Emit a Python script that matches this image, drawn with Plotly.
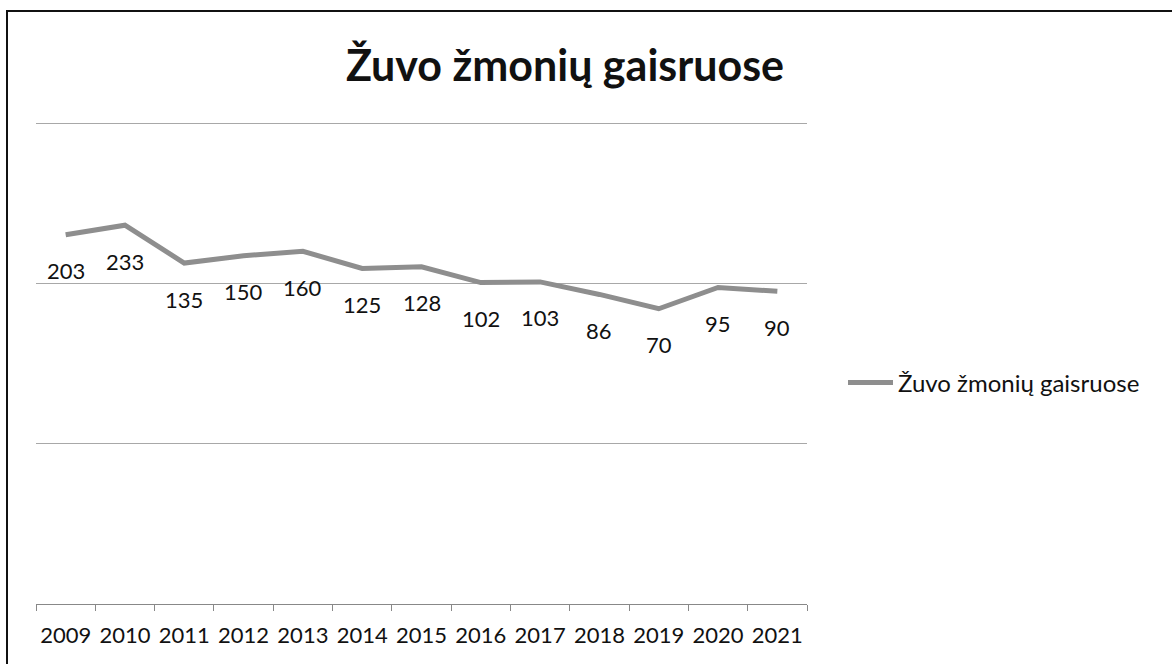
import math
import plotly.graph_objects as go

years = ["2009", "2010", "2011", "2012", "2013", "2014", "2015",
         "2016", "2017", "2018", "2019", "2020", "2021"]
deaths = [203, 233, 135, 150, 160, 125, 128, 102, 103, 86, 70, 95, 90]
series_name = "Žuvo žmonių gaisruose"
title_text = "Žuvo žmonių gaisruose"

FONT = "Lato"
W, H = 1172, 664
L, R, T, B = 36, 365, 122, 60
pw, ph = W - L - R, H - T - B

def px_x(p):
    return (p - L) / pw

def px_y(p):
    return (H - B - p) / ph

fig = go.Figure()
fig.add_trace(go.Scatter(
    x=years, y=deaths, mode="lines", name=series_name,
    line=dict(color="#8e8e8e", width=5),
))

for i, v in enumerate(deaths):
    fig.add_annotation(x=i, y=math.log10(v), yref="y", xref="x", text=str(v),
                       showarrow=False, yshift=-36,
                       font=dict(family=FONT, size=22, color="#111111"))

fig.add_shape(type="rect", xref="paper", yref="paper",
              x0=px_x(7), x1=px_x(1190), y0=px_y(690), y1=px_y(11),
              line=dict(color="#111111", width=2), fillcolor="rgba(0,0,0,0)",
              layer="below")

fig.update_layout(
    width=W, height=H,
    margin=dict(l=L, r=R, t=T, b=B, autoexpand=False),
    paper_bgcolor="white", plot_bgcolor="white",
    title=dict(text=title_text, x=px_x(565), xref="paper", xanchor="center",
               y=1 - 66 / H, yref="container", yanchor="middle",
               font=dict(family=FONT, size=43, color="#111111", weight="bold")),
    showlegend=True,
    legend=dict(x=px_x(843), y=px_y(383), xanchor="left", yanchor="middle",
                font=dict(family=FONT, size=24, color="#111111"),
                bgcolor="rgba(0,0,0,0)", itemwidth=45),
    font=dict(family=FONT),
)

fig.update_xaxes(type="category", range=[-0.5, len(years) - 0.5],
                 tickson="boundaries", ticks="outside", ticklen=6,
                 tickcolor="#888888", showline=True, linecolor="#888888",
                 linewidth=1, showgrid=False, tickangle=0, automargin=False,
                 ticklabelstandoff=12,
                 tickfont=dict(family=FONT, size=22, color="#111111"))
fig.update_yaxes(type="log", range=[0, 3.012], showticklabels=False,
                 showgrid=True, gridcolor="#a8a8a8", gridwidth=1,
                 dtick=1, zeroline=False, showline=False, ticks="",
                 automargin=False)

fig.write_html("out.html", post_script="document.body.style.margin='0';",
               config={"displayModeBar": False})
